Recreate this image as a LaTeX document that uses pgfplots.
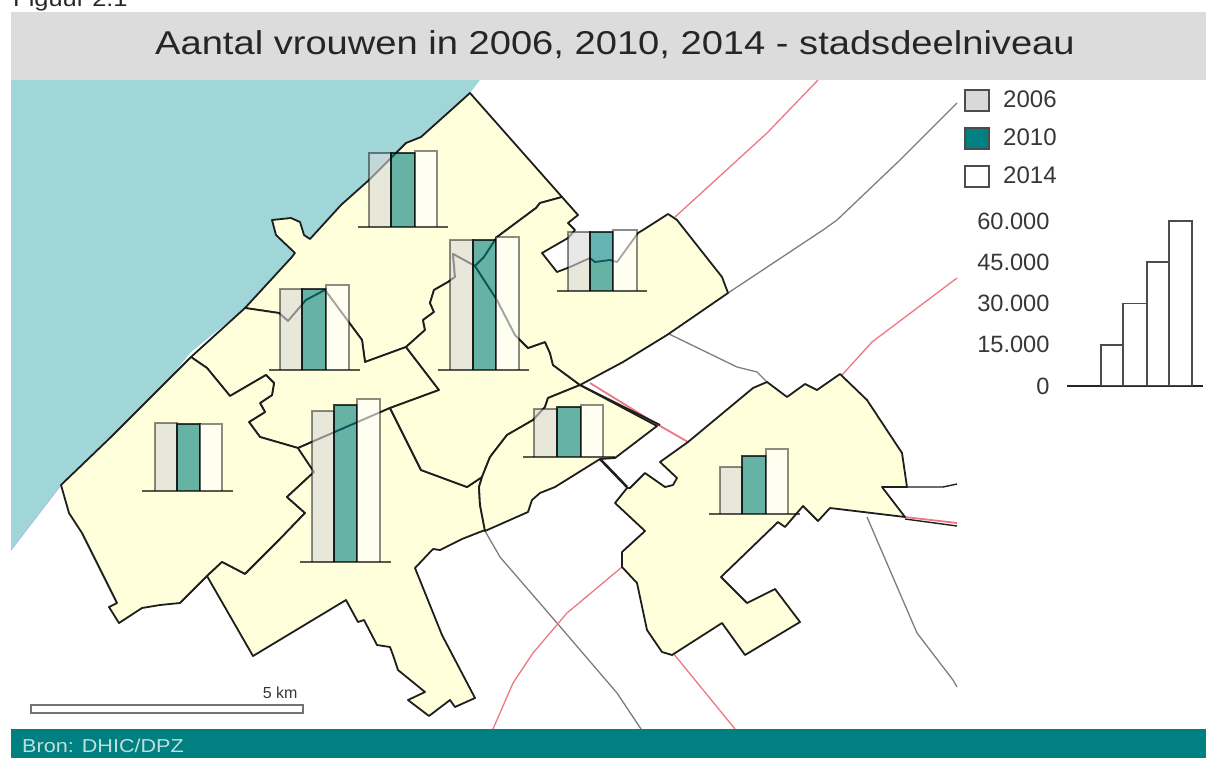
\documentclass[border=0pt]{standalone}
\usepackage{fontspec}
\setmainfont{Liberation Sans}
\newfontfamily\widesans[FakeStretch=1.155]{Liberation Sans}
\usepackage{pgfplots}
\pgfplotsset{compat=1.18}

\definecolor{sea}{RGB}{160,214,216}
\definecolor{land}{RGB}{255,255,220}
\definecolor{teal0}{RGB}{0,128,128}
\definecolor{band}{RGB}{220,220,220}
\definecolor{bar06}{RGB}{217,217,217}
\definecolor{roadred}{RGB}{238,120,130}
\definecolor{roadgray}{RGB}{125,125,125}
\definecolor{txt}{RGB}{55,55,55}
\definecolor{mapline}{RGB}{30,30,30}

\tikzset{
  district/.style={fill=land,draw=mapline,line width=1.8pt,line join=round},
  red road/.style={draw=roadred,line width=1.3pt},
  gray road/.style={draw=roadgray,line width=1.3pt},
  b06/.style={fill=bar06,fill opacity=.6,draw=black,draw opacity=.45,line width=1.7pt},
  b10/.style={fill=teal0,fill opacity=.6,draw=black,draw opacity=.75,line width=1.7pt},
  b14/.style={fill=white,fill opacity=.6,draw=black,draw opacity=.45,line width=1.7pt},
  base/.style={draw=black,draw opacity=.65,line width=1.4pt},
}

\begin{document}
\begin{tikzpicture}
\useasboundingbox (0,0) rectangle (1206pt,758pt);
% map axis: coordinates are the pixels of the picture
\begin{axis}[
    at={(0,0)},anchor=south west,
    scale only axis,width=1206pt,height=758pt,
    xmin=0,xmax=1206,ymin=0,ymax=758,
    y dir=reverse,
    hide axis,
    title={Aantal vrouwen in 2006, 2010, 2014 - stadsdeelniveau},
    title style={at={(axis cs:615,43)},anchor=center,text=black!85,yshift=-8pt,
        font=\widesans\fontsize{33}{36}\selectfont},
]
% sea
\addplot[fill=sea,draw=none] coordinates {
 (11,80)(480,80)(470,93)(421,137)(406,143)(369,180)(341,205)(310,239)(304,235)(300,222)(291,218)(272,220)(276,235)(295,253)(291,258)(245,308)(191,352)(168,380)(111,437)(61,485)(11,550)
} --cycle;
\addplot[draw=sea!70!blue!60,line width=1pt] coordinates {(61,485)(11,550)};

% roads
\addplot[red road] coordinates {(675,217)(767,133)(818,80)};
\addplot[gray road] coordinates {(728,293)(823,230)(837,220)(900,160)(957,103)};
\addplot[red road] coordinates {(842,375)(872,342)(957,278)};
\addplot[gray road] coordinates {(667,333)(737,367)(757,372)(767,382)};
\addplot[red road,line width=1.8pt] coordinates {(590,383)(655,423)(688,442)};
\addplot[draw=mapline,line width=1.4pt] coordinates {(907,487)(943,487)(957,484)};
\addplot[red road,line width=1.8pt] coordinates {(905,517)(957,523)};
\addplot[draw=mapline,line width=1.4pt] coordinates {(905,519)(957,526)};
\addplot[gray road] coordinates {(867,517)(917,633)(953,680)(957,687)};
\addplot[gray road] coordinates {(485,531)(500,557)(557,623)(617,693)(641,729)};
\addplot[red road] coordinates {(622,567)(567,613)(533,653)(513,683)(493,729)};
\addplot[red road] coordinates {(673,653)(735,729)};

% districts
\addplot[district] coordinates { % Scheveningen
 (470,93)(562,197)(540,203)(536,208)(497,237)(484,257)(475,266)(453,254)(455,277)(448,282)(434,290)(430,303)(434,312)(423,320)(425,330)(406,347)(365,362)(362,340)(325,290)(306,300)(288,321)(279,313)(245,308)(291,258)(295,253)(276,235)(272,220)(291,218)(300,222)(304,235)(310,239)(341,205)(369,180)(406,143)(421,137)
} --cycle;
\addplot[district] coordinates { % Segbroek
 (245,308)(279,313)(288,321)(306,300)(325,290)(362,340)(365,362)(406,347)(439,390)(390,408)(298,448)(260,437)(249,422)(265,412)(260,403)(272,395)(274,383)(266,375)(230,396)(207,368)(191,357)
} --cycle;
\addplot[district] coordinates { % Loosduinen
 (61,485)(111,437)(168,380)(191,357)(207,368)(230,396)(266,375)(274,383)(272,395)(260,403)(265,412)(249,422)(260,437)(298,448)(314,472)(287,497)(305,513)(279,540)(245,574)(222,562)(207,576)(180,603)(160,605)(142,608)(119,623)(109,607)(117,603)(82,533)(69,513)
} --cycle;
\addplot[district] coordinates { % Escamp
 (298,448)(390,408)(421,470)(467,487)(482,477)(479,487)(480,505)(485,530)(462,539)(440,550)(433,549)(415,568)(442,635)(475,698)(455,707)(450,700)(429,716)(408,700)(425,692)(398,670)(393,655)(390,647)(377,645)(364,620)(358,622)(346,600)(253,656)(207,576)(222,562)(245,574)(279,540)(305,513)(287,497)(314,472)
} --cycle;
\addplot[district] coordinates { % Centrum
 (475,266)(453,254)(455,277)(448,282)(434,290)(430,303)(434,312)(423,320)(425,330)(406,347)(439,390)(390,408)(421,470)(467,487)(482,477)(490,457)(507,435)(533,420)(545,407)(548,398)(580,385)(553,365)(550,353)(545,342)(528,348)(515,335)(497,300)
} --cycle;
\addplot[district] coordinates { % Haagse Hout
 (562,197)(578,215)(568,223)(575,230)(568,238)(542,253)(557,272)(570,267)(590,258)(595,262)(610,260)(617,262)(638,233)(643,230)(668,214)(677,220)(722,277)(728,293)(667,335)(623,362)(580,385)(553,365)(550,353)(545,342)(528,348)(515,335)(497,300)(475,266)(484,257)(497,237)(536,208)(540,203)
} --cycle;
\addplot[district] coordinates { % Laak
 (580,385)(548,398)(545,407)(533,420)(507,435)(490,457)(482,477)(479,487)(480,505)(485,531)(528,512)(532,500)(540,493)(555,487)(600,459)(615,458)(657,426)
} --cycle;
\addplot[draw=mapline,line width=1.8pt] coordinates {(580,385)(660,425)};
\addplot[district] coordinates { % Leidschenveen-Ypenburg
 (767,382)(787,397)(805,384)(817,390)(840,374)(867,400)(902,453)(907,487)(882,487)(905,517)(830,508)(818,521)(803,506)(785,527)(778,522)(721,577)(747,603)(775,589)(800,622)(745,655)(722,623)(672,655)(662,652)(647,630)(637,583)(622,567)(622,552)(645,531)(615,503)(627,488)(630,488)(645,473)(665,487)(673,485)(677,478)(660,462)(688,442)(753,388)
} --cycle;
\addplot[draw=mapline,line width=2.6pt] coordinates {(600,459)(627,487)};

% mini bars, one group per district
\addplot[b06] coordinates {(369,227)(369,153)(391,153)(391,227)};
\addplot[b10] coordinates {(391,227)(391,153)(415,153)(415,227)};
\addplot[b14] coordinates {(415,227)(415,151)(437,151)(437,227)};
\addplot[base] coordinates {(358,227)(448,227)};

\addplot[b06] coordinates {(280,370)(280,289)(302,289)(302,370)};
\addplot[b10] coordinates {(302,370)(302,289)(326,289)(326,370)};
\addplot[b14] coordinates {(326,370)(326,285)(349,285)(349,370)};
\addplot[base] coordinates {(269,370)(360,370)};

\addplot[b06] coordinates {(450,370)(450,240)(473,240)(473,370)};
\addplot[b10] coordinates {(473,370)(473,240)(496,240)(496,370)};
\addplot[b14] coordinates {(496,370)(496,237)(519,237)(519,370)};
\addplot[base] coordinates {(438,370)(529,370)};

\addplot[b06] coordinates {(568,291)(568,232)(590,232)(590,291)};
\addplot[b10] coordinates {(590,291)(590,232)(613,232)(613,291)};
\addplot[b14] coordinates {(613,291)(613,230)(637,230)(637,291)};
\addplot[base] coordinates {(557,291)(647,291)};

\addplot[b06] coordinates {(155,491)(155,423)(177,423)(177,491)};
\addplot[b10] coordinates {(177,491)(177,424)(200,424)(200,491)};
\addplot[b14] coordinates {(200,491)(200,424)(222,424)(222,491)};
\addplot[base] coordinates {(142,491)(233,491)};

\addplot[b06] coordinates {(312,562)(312,411)(334,411)(334,562)};
\addplot[b10] coordinates {(334,562)(334,405)(357,405)(357,562)};
\addplot[b14] coordinates {(357,562)(357,399)(380,399)(380,562)};
\addplot[base] coordinates {(300,562)(391,562)};

\addplot[b06] coordinates {(534,457)(534,409)(557,409)(557,457)};
\addplot[b10] coordinates {(557,457)(557,407)(581,407)(581,457)};
\addplot[b14] coordinates {(581,457)(581,405)(603,405)(603,457)};
\addplot[base] coordinates {(523,457)(615,457)};

\addplot[b06] coordinates {(720,514)(720,467)(742,467)(742,514)};
\addplot[b10] coordinates {(742,514)(742,456)(766,456)(766,514)};
\addplot[b14] coordinates {(766,514)(766,449)(788,449)(788,514)};
\addplot[base] coordinates {(709,514)(800,514)};

% bands
\addplot[fill=band,draw=none] coordinates {(11,12)(1206,12)(1206,80)(11,80)} --cycle;
\addplot[fill=teal0,draw=none] coordinates {(11,729)(1206,729)(1206,758)(11,758)} --cycle;
\node[anchor=base west,text=black!85,font=\widesans\fontsize{22}{26}\selectfont] at (axis cs:9.7,6) {Figuur 2.1};
\node[anchor=west,text=teal0!25!white,font=\widesans\fontsize{18.7}{24}\selectfont] at (axis cs:18.7,746) {Bron: DHIC/DPZ};

% scale bar
\addplot[fill=white,draw=black!55,line width=1.6pt] coordinates {(31,705)(303,705)(303,713)(31,713)} --cycle;
\node[anchor=east,text=txt,font=\fontsize{16}{18}\selectfont] at (axis cs:301,693) {5 km};

% legend
\addplot[fill=bar06,draw=black!70,line width=1.6pt] coordinates {(965,90)(989,90)(989,111)(965,111)} --cycle;
\addplot[fill=teal0,draw=black!70,line width=1.6pt] coordinates {(965,128)(989,128)(989,149)(965,149)} --cycle;
\addplot[fill=white,draw=black!70,line width=1.6pt] coordinates {(965,166)(989,166)(989,187)(965,187)} --cycle;
\node[anchor=west,text=txt,font=\fontsize{24}{26}\selectfont] at (axis cs:999.7,99) {2006};
\node[anchor=west,text=txt,font=\fontsize{24}{26}\selectfont] at (axis cs:999.7,137) {2010};
\node[anchor=west,text=txt,font=\fontsize{24}{26}\selectfont] at (axis cs:999.7,175) {2014};
\end{axis}

% value scale of the bars
\begin{axis}[
    at={(1067pt,372pt)},anchor=south west,
    scale only axis,width=136pt,height=165pt,
    xmin=1067,xmax=1203,ymin=0,ymax=60000,
    axis x line=bottom,axis y line=left,
    axis line style={-},
    x axis line style={draw=black!85,line width=1.3pt},
    y axis line style={draw=none},
    xtick=\empty,
    ytick={0,15000,30000,45000,60000},
    major tick length=0pt,
    /pgf/number format/assume math mode=true,
    /pgf/number format/1000 sep={.},
    scaled y ticks=false,
    yticklabel style={text=txt,font=\fontsize{23.6}{26}\selectfont,xshift=-14pt},
]
\addplot[ybar interval,fill=white,draw=black!70,line width=1.6pt] coordinates {
 (1101,15000)(1123,30000)(1147,45000)(1169,60000)(1192,60000)
};
\end{axis}
\end{tikzpicture}
\end{document}
